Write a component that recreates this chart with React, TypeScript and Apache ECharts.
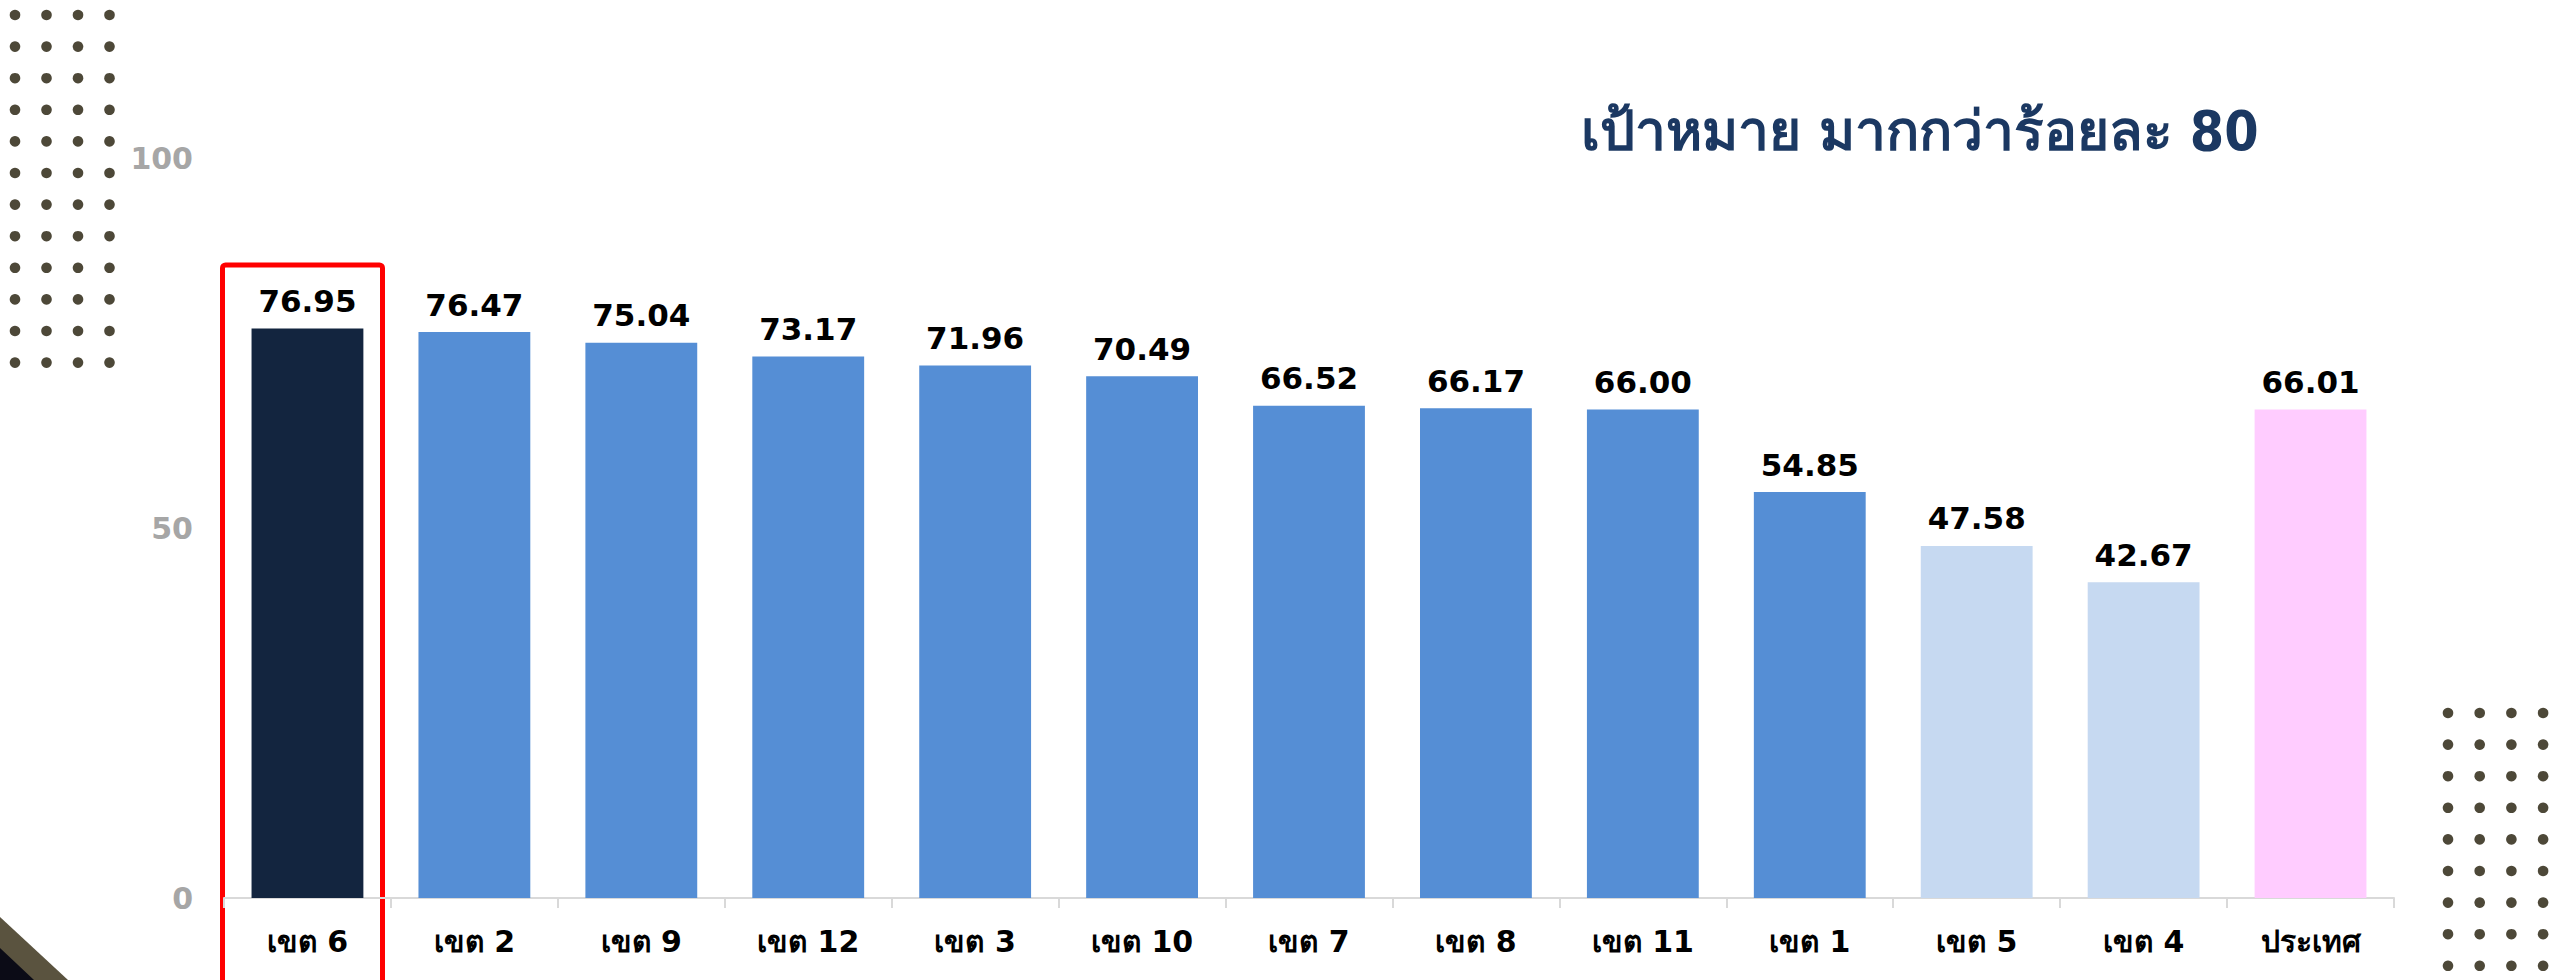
import React, { useEffect, useRef } from "react";
import * as echarts from "echarts";

const categories = ["เขต 6", "เขต 2", "เขต 9", "เขต 12", "เขต 3", "เขต 10", "เขต 7", "เขต 8", "เขต 11", "เขต 1", "เขต 5", "เขต 4", "ประเทศ"];
const values = [76.95, 76.47, 75.04, 73.17, 71.96, 70.49, 66.52, 66.17, 66.0, 54.85, 47.58, 42.67, 66.01];
const barColors = ["#13253f", "#558ed5", "#558ed5", "#558ed5", "#558ed5", "#558ed5", "#558ed5", "#558ed5", "#558ed5", "#558ed5", "#c6d9f1", "#c6d9f1", "#ffccff"];
const yTicks = { min: 0, max: 100, interval: 50 };
const titleText = "เป้าหมาย มากกว่าร้อยละ 80";

function dots(x0: number, y0: number, cols: number, rows: number, dx: number, dy: number) {
  const out: any[] = [];
  for (let r = 0; r < rows; r++) {
    for (let c = 0; c < cols; c++) {
      out.push({
        type: "circle",
        shape: { cx: x0 + c * dx, cy: y0 + r * dy, r: 5.3 },
        style: { fill: "#4d4838" },
        silent: true,
      });
    }
  }
  return out;
}

export default function App() {
  const ref = useRef<HTMLDivElement>(null);
  useEffect(() => {
    document.body.style.margin = "0";
    const chart = echarts.init(ref.current!, null, { renderer: "svg" });
    const thaiFont = 'Tahoma, "DejaVu Sans", "Noto Sans", sans-serif';
    chart.setOption({
      animation: false,
      backgroundColor: "#ffffff",
      grid: { left: 224, right: 166, top: 158, bottom: 82, containLabel: false },
      xAxis: {
        type: "category",
        data: categories,
        axisLine: { show: true, lineStyle: { color: "#d9d9d9", width: 2 } },
        axisTick: { show: true, length: 10, lineStyle: { color: "#d9d9d9", width: 2 } },
        axisLabel: { color: "#000000", fontWeight: "bold", fontSize: 30, fontFamily: thaiFont, margin: 28 },
      },
      yAxis: {
        type: "value",
        min: yTicks.min,
        max: yTicks.max,
        interval: yTicks.interval,
        splitLine: { show: false },
        axisLine: { show: false },
        axisTick: { show: false },
        axisLabel: { color: "#a6a6a6", fontWeight: "bold", fontSize: 30, fontFamily: '"DejaVu Sans", sans-serif', margin: 31 },
      },
      series: [
        {
          type: "bar",
          data: values.map((v, i) => ({ value: v, itemStyle: { color: barColors[i] } })),
          barCategoryGap: "33%",
          label: {
            show: true,
            position: "top",
            distance: 12,
            color: "#000000",
            fontWeight: "bold",
            fontSize: 31,
            fontFamily: '"DejaVu Sans", sans-serif',
            formatter: (p: any) => Number(p.value).toFixed(2),
          },
        },
      ],
      graphic: [
        ...dots(15, 15, 4, 12, 31.5, 31.6),
        ...dots(2448, 713, 4, 9, 31.7, 31.6),
        {
          type: "polygon",
          shape: { points: [[0, 917], [68, 980], [0, 980]] },
          style: { fill: "#5a533f" },
          silent: true,
        },
        {
          type: "polygon",
          shape: { points: [[0, 948], [34, 980], [0, 980]] },
          style: { fill: "#0b0b16" },
          silent: true,
        },
        {
          type: "rect",
          shape: { x: 222.5, y: 265, width: 160, height: 740, r: 3 },
          style: { fill: "none", stroke: "#ff0000", lineWidth: 5 },
          silent: true,
        },
        {
          type: "text",
          x: 1920,
          y: 131,
          style: {
            text: titleText,
            fill: "#1b3862",
            font: 'bold 55px Tahoma, "DejaVu Sans Condensed", "DejaVu Sans", sans-serif',
            textAlign: "center",
            textVerticalAlign: "middle",
          },
          silent: true,
        },
      ],
    });
    return () => chart.dispose();
  }, []);
  return <div ref={ref} style={{ width: 2560, height: 980 }} />;
}
